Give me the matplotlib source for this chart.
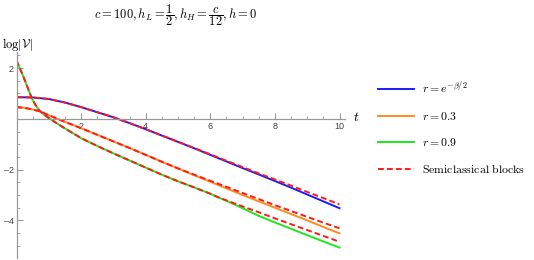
import matplotlib
matplotlib.use("Agg")
import matplotlib.pyplot as plt
import numpy as np

plt.rcParams['mathtext.fontset'] = 'cm'

# ---- data ----
t_blue = [0, 0.5, 1, 1.5, 2, 2.5, 3, 3.5, 4, 4.5, 5, 5.5, 6, 6.5, 7, 7.5, 8, 8.5, 9, 9.5, 10]
blue = [0.85, 0.84, 0.78, 0.64, 0.46, 0.26, 0.06, -0.17, -0.41, -0.66, -0.91, -1.16, -1.42,
        -1.68, -1.94, -2.19, -2.45, -2.71, -2.98, -3.25, -3.52]
blue_sc = [0.85, 0.84, 0.78, 0.64, 0.46, 0.26, 0.06, -0.17, -0.41, -0.66, -0.90, -1.15, -1.40,
           -1.65, -1.90, -2.15, -2.39, -2.63, -2.88, -3.12, -3.37]

t_orange = [0, 0.25, 0.5, 0.75, 1, 1.5, 2, 2.5, 3, 3.5, 4, 4.5, 5, 5.5, 6, 6.5, 7, 7.5, 8, 8.5, 9, 9.5, 10]
orange = [0.46, 0.43, 0.37, 0.28, 0.14, -0.12, -0.37, -0.63, -0.89, -1.15, -1.42, -1.69, -1.96,
          -2.22, -2.48, -2.74, -3.00, -3.25, -3.50, -3.75, -4.00, -4.26, -4.51]
orange_sc = [0.46, 0.43, 0.37, 0.28, 0.14, -0.12, -0.37, -0.63, -0.89, -1.15, -1.42, -1.69, -1.95,
             -2.20, -2.44, -2.68, -2.92, -3.16, -3.40, -3.63, -3.86, -4.09, -4.31]

t_green = [0, 0.1, 0.2, 0.3, 0.4, 0.5, 0.6, 0.7, 0.8, 0.9, 1.0, 1.25, 1.5, 1.75, 2, 2.5, 3, 3.5,
           4, 4.5, 5, 5.5, 6, 6.3, 6.5, 7, 7.5, 8, 8.5, 9, 9.5, 10]
green = [2.31, 2.00, 1.70, 1.38, 1.05, 0.74, 0.52, 0.34, 0.22, 0.12, 0.03, -0.18, -0.38, -0.57,
         -0.76, -1.07, -1.36, -1.64, -1.92, -2.20, -2.46, -2.70, -2.95, -3.12, -3.23, -3.52,
         -3.82, -4.08, -4.33, -4.58, -4.83, -5.07]
green_sc = [2.31, 2.00, 1.70, 1.38, 1.05, 0.74, 0.52, 0.34, 0.22, 0.12, 0.03, -0.18, -0.38, -0.57,
            -0.76, -1.07, -1.36, -1.64, -1.92, -2.20, -2.46, -2.70, -2.95, -3.12, -3.21, -3.45,
            -3.68, -3.92, -4.15, -4.38, -4.61, -4.84]

labels = [r'$r=e^{-\beta/2}$', r'$r=0.3$', r'$r=0.9$', r'$\mathrm{Semiclassical\ blocks}$']
x_ticks = [2, 4, 6, 8, 10]
y_ticks = [-4, -2, 2]

fig = plt.figure(figsize=(5.34, 2.6), dpi=100)
ax = fig.add_axes([16.5 / 534, 2 / 260, (345 - 16.5) / 534, (258 - 52) / 260])

lw = 1.4
lb, = ax.plot(t_blue, blue, color='#1a1aff', lw=lw)
lo, = ax.plot(t_orange, orange, color='#ff8c1a', lw=lw)
lg, = ax.plot(t_green, green, color='#1de81d', lw=lw)
dash = dict(color='#ff1a1a', lw=lw, linestyle=(0, (3.0, 1.6)))
ld, = ax.plot(t_blue, blue_sc, **dash)
ax.plot(t_orange, orange_sc, **dash)
ax.plot(t_green, green_sc, **dash)

ax.set_xlim(0, 10.17)
ax.set_ylim(-5.48, 2.63)

for s in ['top', 'right']:
    ax.spines[s].set_visible(False)
ax.spines['left'].set_position(('data', 0))
ax.spines['bottom'].set_position(('data', 0))
for s in ['left', 'bottom']:
    ax.spines[s].set_color('#999999')
    ax.spines[s].set_linewidth(0.9)

ax.set_xticks(x_ticks)
ax.set_yticks(y_ticks)
ax.set_xticklabels([str(v) for v in x_ticks])
ax.set_yticklabels(['\u2013' + str(-v) if v < 0 else str(v) for v in y_ticks])
ax.set_xticks(np.arange(0.5, 10.01, 0.5), minor=True)
ax.set_yticks(np.arange(-5.0, 2.51, 0.5), minor=True)
ax.tick_params(which='major', direction='in', length=4, width=0.8, color='#999999',
               labelsize=6.5, labelcolor='#444444', pad=2)
ax.tick_params(which='minor', direction='in', length=2.2, width=0.6, color='#999999')
for lab in ax.get_xticklabels() + ax.get_yticklabels():
    lab.set_fontfamily('Liberation Sans')

fig.text(176 / 534, 1 - 15 / 260, r'$c=100, h_L=\dfrac{1}{2}, h_H=\dfrac{c}{12}, h=0$',
         ha='center', va='center', fontsize=9)
fig.text(2 / 534, 1 - 44 / 260, r'$\log|\mathcal{V}|$', ha='left', va='center', fontsize=9)
fig.text(353 / 534, 1 - 117 / 260, r'$t$', ha='left', va='center', fontsize=10)

fig.legend([lb, lo, lg, ld], labels, loc='center left', bbox_to_anchor=(367 / 534, 1 - 128 / 260),
           frameon=False, fontsize=8.5, handlelength=3.1, labelspacing=1.15, handletextpad=0.65)

fig.savefig('out.png', dpi=100)
